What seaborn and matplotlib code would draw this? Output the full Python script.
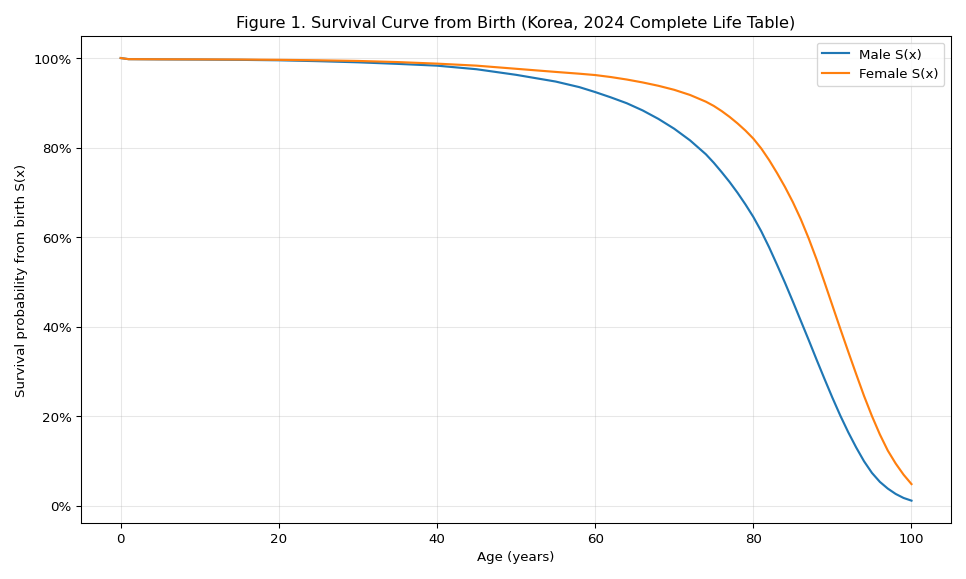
from matplotlib import pyplot as plt
from matplotlib.ticker import PercentFormatter
import pandas as pd
import seaborn as sns

# age (years) and survival probability from birth S(x), in percent
ages = [0, 1, 5, 10, 15, 20, 25, 30, 35, 40, 45, 50, 55, 58, 60, 62, 64, 66, 68, 70,
        72, 74, 75, 76, 77, 78, 79, 80, 81, 82, 83, 84, 85, 86, 87, 88, 89, 90,
        91, 92, 93, 94, 95, 96, 97, 98, 99, 100]

male_sx = [100.0, 99.75, 99.70, 99.66, 99.60, 99.50, 99.30, 99.05, 98.70, 98.30, 97.50, 96.25,
           94.75, 93.50, 92.40, 91.20, 89.90, 88.30, 86.40, 84.20,
           81.60, 78.50, 76.60, 74.50, 72.30, 69.90, 67.30, 64.50, 61.30, 57.70, 53.80, 49.80,
           45.60, 41.30, 37.00, 32.60, 28.30, 24.10,
           20.10, 16.40, 13.00, 9.90, 7.30, 5.30, 3.80, 2.60, 1.70, 1.10]

female_sx = [100.0, 99.75, 99.72, 99.70, 99.67, 99.60, 99.50, 99.35, 99.10, 98.75, 98.30, 97.60,
             96.90, 96.50, 96.20, 95.75, 95.20, 94.55, 93.80, 92.90,
             91.75, 90.25, 89.30, 88.15, 86.85, 85.40, 83.80, 82.00, 79.80, 77.20, 74.30, 71.20,
             67.80, 64.00, 59.70, 55.00, 49.90, 44.70,
             39.50, 34.40, 29.40, 24.50, 20.00, 15.90, 12.30, 9.40, 6.90, 4.80]

df = pd.DataFrame({'Age': ages * 2,
                   'S': male_sx + female_sx,
                   'Series': ['Male S(x)'] * len(ages) + ['Female S(x)'] * len(ages)})

fig, ax = plt.subplots(figsize=(10, 6), dpi=96.6)
sns.lineplot(data=df, x='Age', y='S', hue='Series', palette=['C0', 'C1'], linewidth=1.6, ax=ax)

ax.yaxis.set_major_formatter(PercentFormatter(100, decimals=0))
ax.set_title('Figure 1. Survival Curve from Birth (Korea, 2024 Complete Life Table)')
ax.set_xlabel('Age (years)')
ax.set_ylabel('Survival probability from birth S(x)')
ax.grid(True, alpha=0.3)
ax.legend(loc='upper right')

plt.subplots_adjust(left=0.084, right=0.9845, top=0.937, bottom=0.097)
plt.savefig('out.png')
